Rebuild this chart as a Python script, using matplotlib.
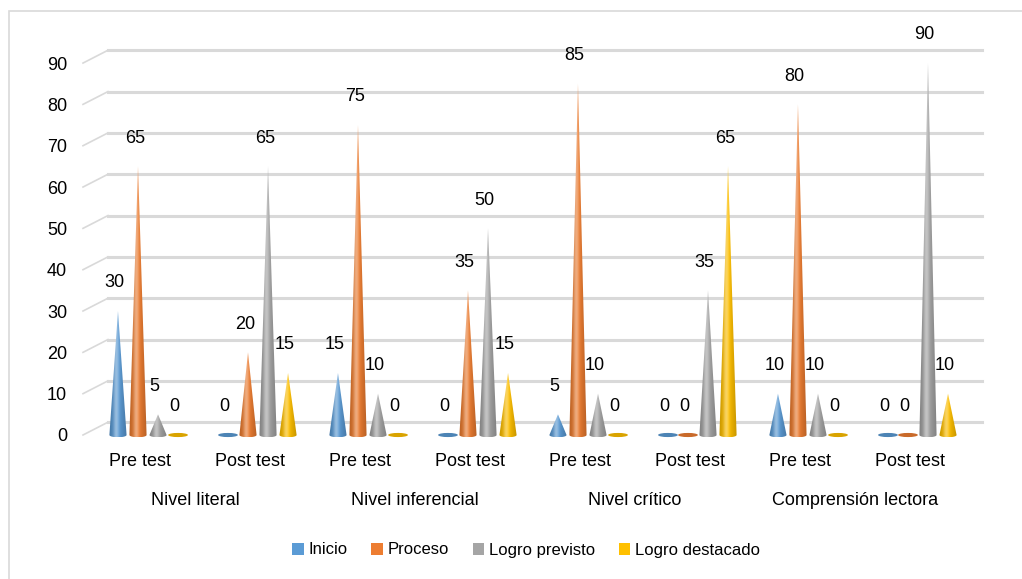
import numpy as np
import matplotlib
matplotlib.use("Agg")
import matplotlib.pyplot as plt
from matplotlib.patches import Polygon, Ellipse, Patch, Rectangle

plt.rcParams["font.family"] = ["Liberation Sans", "DejaVu Sans"]

# data
sub_labels = ["Pre test", "Post test"] * 4
group_labels = ["Nivel literal", "Nivel inferencial", "Nivel crítico", "Comprensión lectora"]
series_names = ["Inicio", "Proceso", "Logro previsto", "Logro destacado"]
inicio = [30, 0, 15, 0, 5, 0, 10, 0]
proceso = [65, 20, 75, 35, 85, 0, 80, 0]
logro_previsto = [5, 65, 10, 50, 10, 35, 10, 90]
logro_destacado = [0, 15, 0, 15, 0, 65, 0, 10]
colors = ["#5B9BD5", "#ED7D31", "#A5A5A5", "#FFC000"]

W, H = 1022, 579
fig = plt.figure(figsize=(W / 100, H / 100), dpi=100)

# outer chart border (only top/left visible in the crop)
fig.patches.append(Rectangle((9 / W, -0.05), 1.1, 1 - 11 / H + 0.05, transform=fig.transFigure,
                             fill=False, edgecolor="#D9D9D9", linewidth=1.2))

# axes placed so that x = 140 + 110*i px and y label 0 at 435 px, 90 at 63 px
ax = fig.add_axes([83 / W, (H - 445) / H, 899 / W, 415 / H])
ax.set_xlim(-0.518, 7.655)
ax.set_ylim(-2.42, 98)
for s in ax.spines.values():
    s.set_visible(False)

ax.set_yticks(range(0, 91, 10))
ax.tick_params(axis="y", length=0, pad=11.5, labelsize=13)
ax.set_xticks(range(len(sub_labels)))
ax.set_xticklabels(sub_labels)
ax.tick_params(axis="x", length=0, pad=6, labelsize=13)

# 3-D looking gridlines: short slanted piece then back-wall line
shift = 3.1
x_wall = -0.291
for v in range(0, 91, 10):
    ax.plot([-0.518, x_wall], [v, v + shift], color="#D9D9D9", lw=1.2, zorder=1, clip_on=False)
    ax.plot([x_wall, 7.655], [v + shift, v + shift], color="#D9D9D9", lw=2.2, zorder=1, clip_on=False)


def shaded(base, n=64):
    rgb = np.array(matplotlib.colors.to_rgb(base))
    u = np.linspace(-1, 1, n)
    dark = 0.78 + 0.22 * (1 - np.abs(u))
    img = rgb[None, :] * dark[:, None]
    hl = 0.38 * np.exp(-((u + 0.2) / 0.3) ** 2)
    img = img + (1 - img) * hl[:, None]
    return np.clip(img[None, :, :], 0, 1)


all_series = [inicio, proceso, logro_previsto, logro_destacado]
half_w = 0.078
eb = 0.55
for k, (vals, col) in enumerate(zip(all_series, colors)):
    img = shaded(col)
    for i, v in enumerate(vals):
        cx = i + 0.073 + (k - 1.5) * 0.182
        if v > 0:
            t = np.linspace(0, -np.pi, 30)
            pts = [(cx, v)] + [(cx + half_w * np.cos(tt), eb * np.sin(tt)) for tt in t]
            poly = Polygon(pts, closed=True, facecolor="none", edgecolor="none", zorder=3)
            ax.add_patch(poly)
            im = ax.imshow(img, extent=[cx - half_w, cx + half_w, -eb, v], aspect="auto",
                           zorder=3, interpolation="bilinear")
            im.set_clip_path(poly)
        else:
            rgb = np.array(matplotlib.colors.to_rgb(col)) * 0.85
            ax.add_patch(Ellipse((cx, 0), 0.18, 1.0, facecolor=rgb, edgecolor="none", zorder=3))
        ax.text(cx - 0.03, v + 6.8, str(v), ha="center", va="center", fontsize=13, zorder=4)

for j, g in enumerate(group_labels):
    ax.text(2 * j + 0.5, -0.133, g, transform=ax.get_xaxis_transform(),
            ha="center", va="center", fontsize=13)

handles = [Patch(facecolor=c, edgecolor="none") for c in colors]
fig.legend(handles, series_names, loc="center", bbox_to_anchor=(0.515, (H - 550) / H), ncol=4,
           frameon=False, fontsize=12, handlelength=0.7, handleheight=0.7,
           handletextpad=0.3, columnspacing=1.4)

fig.savefig("out.png", dpi=100)
